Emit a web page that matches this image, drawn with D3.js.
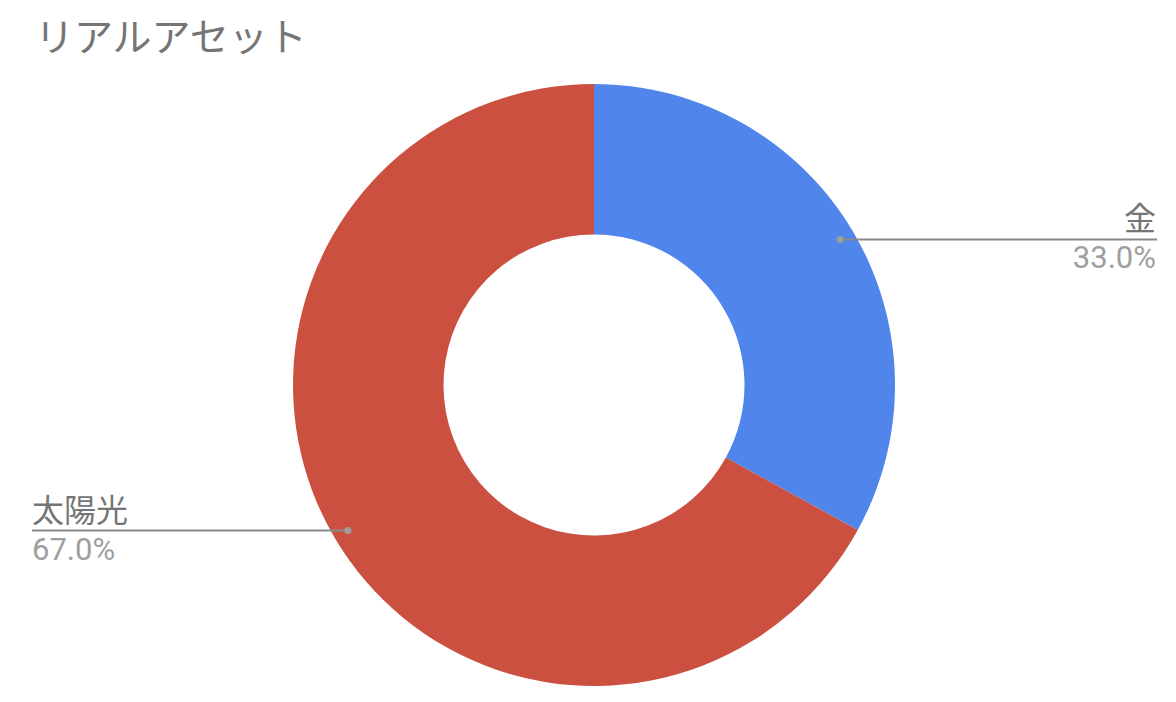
<!DOCTYPE html>
<html>
<head>
<meta charset="utf-8">
<script src="https://cdn.jsdelivr.net/npm/d3@7"></script>
<style>
  body { margin: 0; background: #fff; }
  text { font-family: Roboto, "Noto Sans CJK JP", sans-serif; }
</style>
</head>
<body>
<div id="chart-area"></div>
<script>
const title = "リアルアセット";
const categories = ["金", "太陽光"];
const values = [33.0, 67.0];
const colors = ["#5086EB", "#CC5040"];

const width = 1176, height = 702;
const cx = 594, cy = 385;
const outerR = 301, innerR = 150.5;

const svg = d3.select("#chart-area").append("svg")
    .attr("width", width)
    .attr("height", height);

svg.append("text")
    .attr("x", 35)
    .attr("y", 51)
    .attr("font-size", 39)
    .attr("fill", "#757575")
    .text(title);

const pie = d3.pie().sort(null).value(d => d.value);
const arc = d3.arc().innerRadius(innerR).outerRadius(outerR);
const dotArc = d3.arc().innerRadius(outerR * 0.95).outerRadius(outerR * 0.95);

const data = categories.map((c, i) => ({ name: c, value: values[i], color: colors[i] }));
const arcs = pie(data);
const total = d3.sum(values);

const g = svg.append("g").attr("transform", `translate(${cx},${cy})`);

g.selectAll("path.slice")
    .data(arcs)
    .enter().append("path")
    .attr("class", "slice")
    .attr("d", arc)
    .attr("fill", d => d.data.color);

// labels: line from the dot out to the chart edge, name above, percent below
const labels = svg.selectAll("g.label")
    .data(arcs)
    .enter().append("g")
    .attr("class", "label");

labels.each(function(d) {
    const sel = d3.select(this);
    const [px, py] = dotArc.centroid(d);
    const x0 = cx + px, y0 = cy + py;
    const right = x0 > cx;
    const edge = right ? 1157 : 32;

    sel.append("line")
        .attr("x1", x0).attr("y1", y0)
        .attr("x2", edge).attr("y2", y0)
        .attr("stroke", "#8a8a8a")
        .attr("stroke-width", 2);

    sel.append("circle")
        .attr("cx", x0).attr("cy", y0)
        .attr("r", 3.5)
        .attr("fill", "#9e9e9e");

    sel.append("text")
        .attr("x", right ? edge - 1 : edge)
        .attr("y", y0 - 9)
        .attr("text-anchor", right ? "end" : "start")
        .attr("font-size", 32)
        .attr("fill", "#757575")
        .text(d.data.name);

    sel.append("text")
        .attr("x", right ? edge - 1 : edge)
        .attr("y", y0 + 29)
        .attr("text-anchor", right ? "end" : "start")
        .attr("font-size", 31)
        .attr("fill", "#9e9e9e")
        .text((d.data.value / total * 100).toFixed(1) + "%");
});
</script>
</body>
</html>
